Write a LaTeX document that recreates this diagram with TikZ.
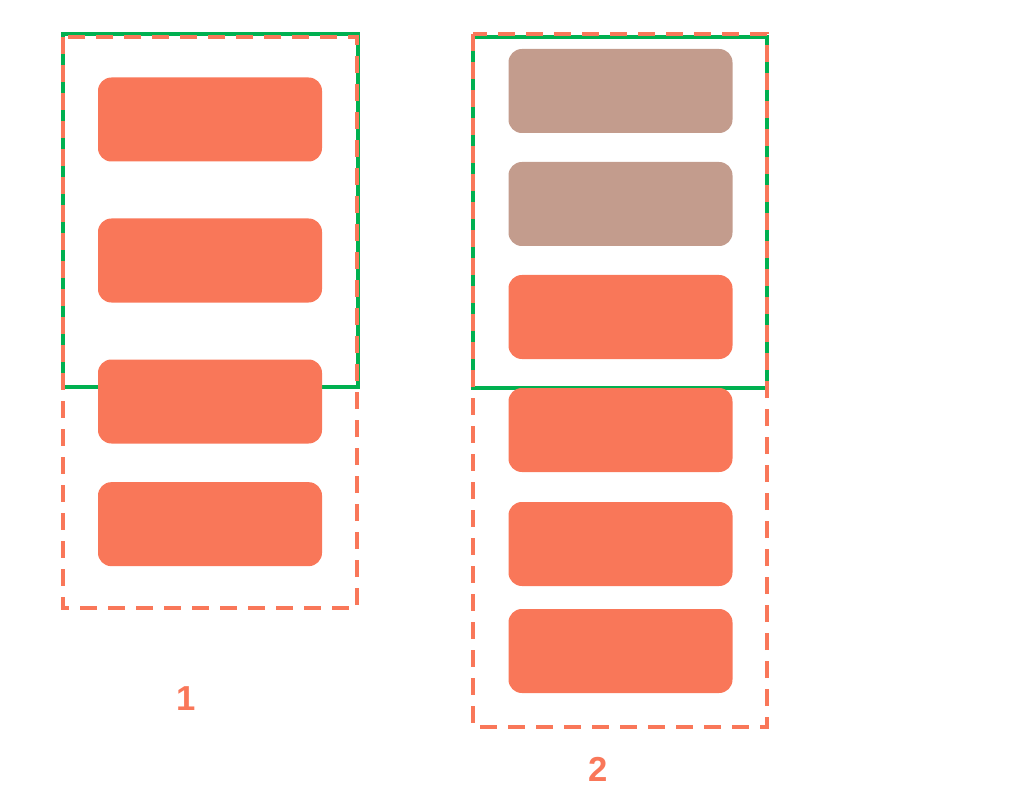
\documentclass[tikz,border=0pt]{standalone}
\usepackage{fontspec}
\setmainfont{Liberation Sans}
\usepackage{tikz}

\definecolor{salmon}{HTML}{F97759}
\definecolor{mocha}{HTML}{C39C8D}
\definecolor{frame}{HTML}{00B050}

\begin{document}
\begin{tikzpicture}[x=0.75pt,y=-0.75pt,
    slot/.style={rectangle,rounded corners=10pt,fill=salmon,
      minimum width=168pt,minimum height=63pt,inner sep=0pt},
    used/.style={slot,fill=mocha},
    window/.style={draw=frame,line width=2.5pt},
    buffer/.style={draw=salmon,line width=2.5pt,dash pattern=on 12.75pt off 8.25pt},
    tag/.style={text=salmon,font=\bfseries\fontsize{26}{30}\selectfont}]
\useasboundingbox (0,0) rectangle (1018,795);

% frames
\draw[window] (63,34) rectangle (358,387);
\draw[buffer] (63,37) rectangle (357,608);
\draw[window] (473,37) rectangle (767,388);
\draw[buffer] (473,34) rectangle (767,727);

% group 1
\node[slot] (a_1) at (210,119.5) {};
\node[slot] (a_2) [below of = a_1, node distance = 105.75pt] {};
\node[slot] (a_3) [below of = a_2, node distance = 105.75pt] {};
\node[slot] (a_4) [below of = a_3, node distance = 92pt] {};
\node[tag] (l_1) at (186,699) {1};

% group 2
\node[used] (b_1) at (620.5,91) {};
\node[used] (b_2) [below of = b_1, node distance = 84.75pt] {};
\node[slot] (b_3) [below of = b_2, node distance = 84.75pt] {};
\node[slot] (b_4) [below of = b_3, node distance = 84.75pt] {};
\node[slot] (b_5) [below of = b_4, node distance = 85.5pt] {};
\node[slot] (b_6) [below of = b_5, node distance = 80.25pt] {};
\node[tag] (l_2) at (598,769) {2};
\end{tikzpicture}
\end{document}
